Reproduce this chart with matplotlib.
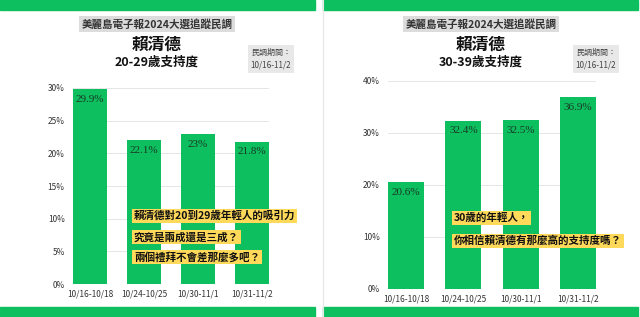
import matplotlib.pyplot as plt
from matplotlib.patches import Rectangle

plt.rcParams['font.family'] = ['Noto Sans CJK TC', 'DejaVu Sans']

W, H = 640, 317
GREEN = '#0dbf5f'
YELLOW = '#ffd95a'

dates = ['10/16-10/18', '10/24-10/25', '10/30-11/1', '10/31-11/2']
support_20s = [29.9, 22.1, 23, 21.8]
support_30s = [20.6, 32.4, 32.5, 36.9]
labels_20s = ['29.9%', '22.1%', '23%', '21.8%']
labels_30s = ['20.6%', '32.4%', '32.5%', '36.9%']

header = '美麗島電子報2024大選追蹤民調'
name = '賴清德'
period = '民調期間：\n10/16-11/2'
note_20s = ['賴清德對20到29歲年輕人的吸引力', '究竟是兩成還是三成？', '兩個禮拜不會差那麼多吧？']
note_30s = ['30歲的年輕人，', '你相信賴清德有那麼高的支持度嗎？']


def px_axes(fig, x0, x1, ytop, ybot):
    return fig.add_axes([x0 / W, (H - ybot) / H, (x1 - x0) / W, (ybot - ytop) / H])


fig = plt.figure(figsize=(W / 100, H / 100), dpi=100)
fig.patch.set_facecolor('white')


def fx(x):
    return x / W


def fy(y):
    return 1 - y / H


# green strips top and bottom
for x0, x1 in [(0, 315), (323, 638)]:
    fig.patches.append(Rectangle((fx(x0), fy(10)), fx(x1 - x0), 10 / H,
                                 transform=fig.transFigure, color=GREEN, zorder=0))
    fig.patches.append(Rectangle((fx(x0), fy(317)), fx(x1 - x0), 10 / H,
                                 transform=fig.transFigure, color=GREEN, zorder=0))
fig.add_artist(plt.Line2D([fx(323), fx(323)], [0, 1], transform=fig.transFigure,
                          color='#e6e6e6', lw=0.8))


def panel(cx, ax_box, values, labels, ymax, step, subtitle, notes, note_x, note_y, box_x):
    fig.text(fx(cx), fy(24), header, ha='center', va='center', fontsize=7.6,
             fontweight='bold', color='#333333',
             bbox=dict(boxstyle='square,pad=0.25', fc='#dcdcdc', ec='none'))
    fig.text(fx(cx), fy(45), name, ha='center', va='center', fontsize=12,
             fontweight='bold', color='#111111')
    fig.text(fx(cx), fy(62), subtitle, ha='center', va='center', fontsize=9,
             fontweight='bold', color='#111111')
    fig.text(fx(box_x), fy(59), period, ha='center', va='center', fontsize=5.8,
             color='#444444', linespacing=1.5,
             bbox=dict(boxstyle='square,pad=0.35', fc='#e8e8e8', ec='none'))

    ax = px_axes(fig, *ax_box)
    x = range(len(values))
    ax.bar(x, values, width=0.63, color=GREEN, zorder=2)
    ax.set_xlim(-0.315, len(values) - 1 + 0.315)
    ax.set_ylim(0, ymax)
    ax.set_yticks(range(0, ymax + 1, step))
    ax.set_yticklabels([f'{v}%' for v in range(0, ymax + 1, step)])
    ax.set_xticks(list(x))
    ax.set_xticklabels(dates)
    ax.tick_params(length=0, labelsize=6, labelcolor='#333333', pad=4)
    ax.tick_params(axis='y', pad=6)
    ax.grid(axis='y', color='#e6e6e6', lw=0.7, zorder=0)
    for s in ax.spines.values():
        s.set_visible(False)
    ax.set_facecolor('none')
    for i, (v, lab) in enumerate(zip(values, labels)):
        ax.annotate(lab, (i, v), xytext=(0, -7.5), textcoords='offset points',
                    ha='center', va='center', fontsize=8, color='#1a3a25',
                    family=['Liberation Serif', 'DejaVu Serif'])

    for t, yy in zip(notes, note_y):
        fig.text(fx(note_x), fy(yy), t, ha='left', va='center', fontsize=7.6,
                 fontweight='bold', color='#111111', zorder=5,
                 bbox=dict(boxstyle='square,pad=0.15', fc=YELLOW, ec='none'))


panel(157, (73, 269, 88, 284), support_20s, labels_20s, 30, 5, '20-29歲支持度',
      note_20s, 134, [216, 237, 257], 271)
panel(481, (388, 596, 81, 289), support_30s, labels_30s, 40, 10, '30-39歲支持度',
      note_30s, 454, [218, 241], 596)

fig.savefig('out.png', dpi=100)
